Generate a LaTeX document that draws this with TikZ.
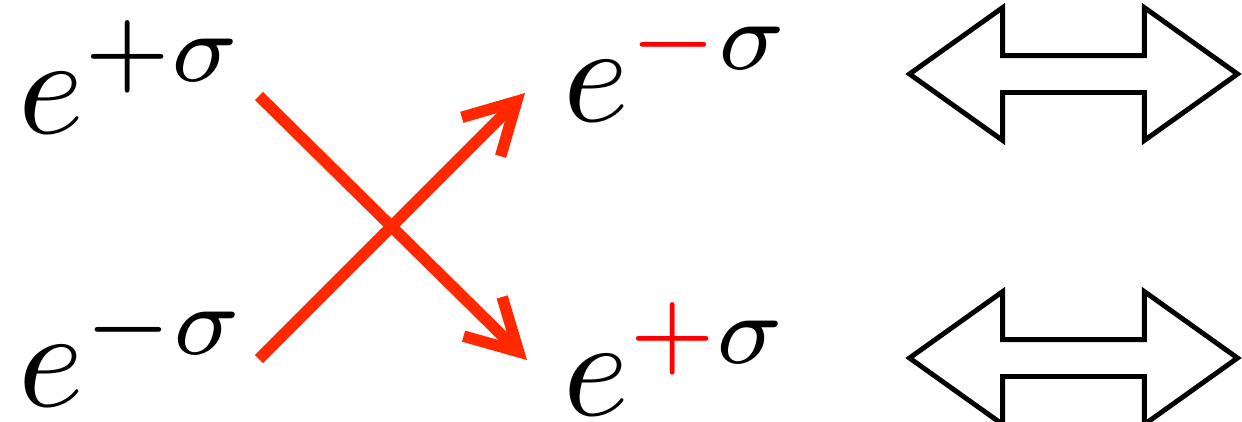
\documentclass[tikz,border=0pt]{standalone}
\usepackage{xcolor}
\definecolor{rojocruz}{RGB}{255,40,0}
\definecolor{rojosigno}{RGB}{255,0,0}
\usepackage{tikz}
\usetikzlibrary{arrows.meta, shapes.arrows, positioning}

\begin{document}
\begin{tikzpicture}[
  term/.style={
    inner sep=0pt, anchor=base west,
    font=\fontsize{10}{12}\selectfont, scale=8, transform shape
  },
  xarr/.style={-{Straight Barb[length=1.0cm, width=1.1cm, line cap=butt, line join=miter]}, rojocruz, line width=0.23cm},
  dblarr/.style={
    double arrow, draw=black, line width=2.8pt,
    inner xsep=0pt, inner ysep=0.32cm,
    minimum height=6.56cm,
    double arrow head extend=0.96cm, double arrow tip angle=71
  }
]
  \useasboundingbox (0,0) rectangle (24.84,-8.42);
  \node[term] (tl) at (0.32,-2.66) {$e^{+\sigma}$};
  \node[term] (bl) at (0.32,-8.12) {$e^{-\sigma}$};
  \node[term] (tm) at (11.22,-2.42) {$e^{\textcolor{rojosigno}{-}\sigma}$};
  \node[term] (bm) at (11.22,-8.30) {$e^{\textcolor{rojosigno}{+}\sigma}$};
  \node[dblarr] (d1) at (21.47,-1.48) {};
  \node[dblarr] (d2) at (21.47,-7.16) {};
  % the two lines cross between the columns
  \draw[xarr] ([shift={(4.86,0.74)}]tl.base west) -- ([shift={(-0.68,1.10)}]bm.base west);
  \draw[xarr] ([shift={(4.86,0.94)}]bl.base west) -- ([shift={(-0.72,0.56)}]tm.base west);
\end{tikzpicture}
\end{document}
